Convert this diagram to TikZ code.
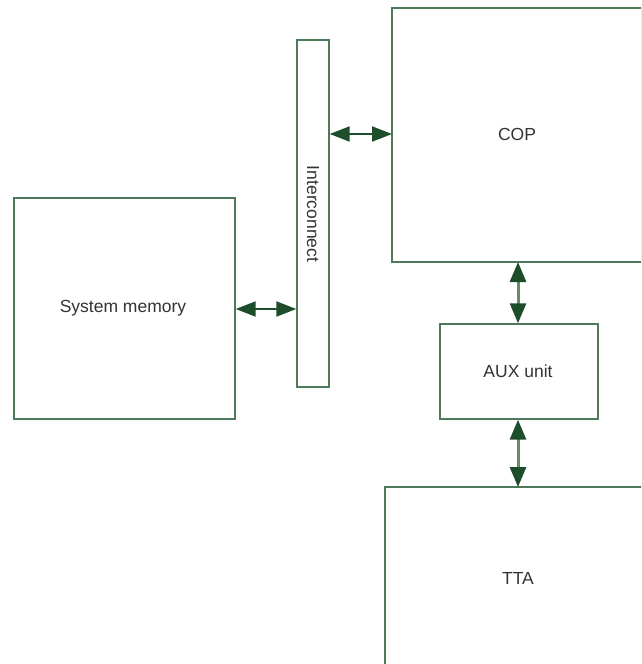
\documentclass[tikz,border=0pt]{standalone}
\usepackage{fontspec}
\setmainfont{Liberation Sans}
\usetikzlibrary{arrows.meta}
\definecolor{boxline}{HTML}{4F7A5A}
\definecolor{headcol}{HTML}{1E4D2B}
\definecolor{vshaft}{HTML}{5E8E6A}
\definecolor{txt}{HTML}{333333}
\begin{document}
\begin{tikzpicture}[x=1pt,y=-1pt,
  blk/.style={draw=boxline, line width=1.4pt, fill=white},
  lbl/.style={text=txt, font=\fontsize{17.5}{19}\selectfont, inner sep=0pt},
  harr/.style={draw=headcol, line width=2pt, {Triangle[length=20pt,width=15pt]}-{Triangle[length=20pt,width=15pt]}},
  varr/.style={draw=vshaft, line width=3pt, {Triangle[length=20pt,width=16pt,color=headcol,fill=headcol]}-{Triangle[length=20pt,width=16pt,color=headcol,fill=headcol]}}]
\useasboundingbox (0,0) rectangle (641,664);
\clip (0,0) rectangle (641,664);
% boxes
\draw[blk] (392,8) rectangle (642,262);
\coordinate (copW) at (392,134);
\coordinate (copS) at (518,262);
\node[lbl] (cop) at (517,134) {COP};
\draw[blk] (385,487) rectangle (652,668);
\coordinate (ttaN) at (518,487);
\node[lbl] (tta) at (518,578) {TTA};
\node[blk, minimum width=32pt, minimum height=347pt, inner sep=0pt] (ic) at (313,213.5) {};
\node[lbl, rotate=-90] (ictext) at (313,214) {Interconnect};
\node[blk, minimum width=221pt, minimum height=221pt, inner sep=0pt] (sm) at (124.5,308.5) {};
\node[lbl] (smtext) at (123,308.5) {System memory};
\node[blk, minimum width=158pt, minimum height=95pt, inner sep=0pt] (aux) at (519,371.5) {};
\node[lbl] (auxtext) at (518,371.5) {AUX unit};
% connectors
\draw[harr] (ic.east |- copW) -- (copW);
\draw[harr] (sm.east |- 0,309) -- (ic.west |- 0,309);
\draw[varr] (copS) -- (aux.north -| copS);
\draw[varr] (aux.south -| ttaN) -- (ttaN);
\end{tikzpicture}
\end{document}
